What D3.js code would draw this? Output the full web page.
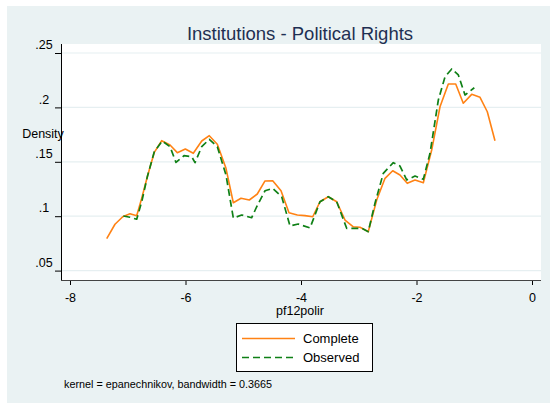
<!DOCTYPE html>
<html><head><meta charset="utf-8">
<script src="https://cdn.jsdelivr.net/npm/d3@7"></script>
<style>
html,body{margin:0;padding:0;background:#fff;}
svg{display:block;font-family:"Liberation Sans",Arial,Helvetica,sans-serif;}
</style></head>
<body><svg id="c" width="550" height="403"></svg>
<script>
const title = "Institutions - Political Rights";
const xLabel = "pf12polir";
const yLabel = "Density";
const note = "kernel = epanechnikov, bandwidth = 0.3665";
const seriesNames = ["Complete", "Observed"];
const xTicks = [-8, -6, -4, -2, 0];
const yTicks = [0.05, 0.10, 0.15, 0.20, 0.25];

const completeX = [-7.364,-7.221,-7.087,-6.961,-6.845,-6.758,-6.661,-6.540,-6.412,-6.268,-6.142,-6.003,-5.865,-5.719,-5.588,-5.449,-5.299,-5.172,-5.039,-4.895,-4.757,-4.623,-4.490,-4.346,-4.208,-4.064,-3.931,-3.797,-3.671,-3.527,-3.382,-3.238,-3.094,-2.978,-2.835,-2.689,-2.545,-2.412,-2.286,-2.160,-2.026,-1.882,-1.737,-1.593,-1.449,-1.321,-1.190,-1.044,-0.900,-0.774,-0.641];
const completeY = [0.0793,0.0926,0.0995,0.1023,0.1005,0.1165,0.1363,0.1587,0.1694,0.1654,0.1584,0.1618,0.1578,0.1691,0.1740,0.1661,0.1440,0.1124,0.1165,0.1149,0.1204,0.1324,0.1326,0.1234,0.1032,0.1011,0.1005,0.0995,0.1133,0.1179,0.1133,0.0965,0.0903,0.0898,0.0858,0.1149,0.1348,0.1418,0.1379,0.1302,0.1333,0.1308,0.1608,0.2006,0.2215,0.2215,0.2038,0.2120,0.2093,0.1960,0.1694];
const observedX = [-7.077,-6.961,-6.845,-6.758,-6.661,-6.540,-6.402,-6.268,-6.165,-6.026,-5.893,-5.835,-5.719,-5.588,-5.449,-5.299,-5.172,-5.027,-4.854,-4.767,-4.623,-4.490,-4.334,-4.190,-4.047,-3.844,-3.671,-3.527,-3.382,-3.209,-3.065,-2.949,-2.835,-2.719,-2.575,-2.402,-2.286,-2.170,-2.026,-1.882,-1.766,-1.622,-1.506,-1.390,-1.276,-1.160,-0.999];
const observedY = [0.1002,0.0990,0.0972,0.1133,0.1363,0.1593,0.1691,0.1639,0.1495,0.1556,0.1547,0.1492,0.1639,0.1707,0.1639,0.1379,0.0983,0.1011,0.0986,0.1087,0.1234,0.1256,0.1179,0.0910,0.0928,0.0892,0.1133,0.1179,0.1133,0.0889,0.0889,0.0889,0.0858,0.1119,0.1394,0.1492,0.1461,0.1333,0.1369,0.1339,0.1578,0.2068,0.2282,0.2353,0.2298,0.2114,0.2181];

const svg = d3.select("#c");
const bg = "#eaf2f3";
const plot = {l:61, r:541, t:44, b:280};

svg.append("rect").attr("x",7).attr("y",6).attr("width",543).attr("height",397).attr("fill",bg);
svg.append("rect").attr("x",plot.l).attr("y",plot.t).attr("width",plot.r-plot.l).attr("height",plot.b-plot.t).attr("fill","#fff");

const x = d3.scaleLinear().domain([-8,0]).range([70,532]);
const y = d3.scaleLinear().domain([0.05,0.25]).range([270.6,53]);

// gridlines
svg.append("g").selectAll("line").data(yTicks).join("line")
  .attr("x1",plot.l).attr("x2",plot.r)
  .attr("y1",d=>y(d)).attr("y2",d=>y(d))
  .attr("stroke","#e6eff1").attr("stroke-width",1.2);

// axes
const fmtY = d => d3.format(".2~f")(d).replace(/^0/,"");
const yAxis = svg.append("g").attr("transform",`translate(${plot.l},0)`)
  .call(d3.axisLeft(y).tickValues(yTicks).tickFormat(fmtY).tickSize(6).tickSizeOuter(0));
yAxis.select(".domain").remove();
yAxis.selectAll(".tick line").attr("stroke","#000");
yAxis.selectAll(".tick text").attr("x",-17).attr("dy","-0.35em").attr("text-anchor","middle")
  .attr("font-size",12.5).attr("fill","#000").attr("font-family","Liberation Sans, Arial, sans-serif");

const xAxis = svg.append("g").attr("transform",`translate(0,${plot.b})`)
  .call(d3.axisBottom(x).tickValues(xTicks).tickFormat(d3.format("d")).tickSize(5).tickSizeOuter(0));
xAxis.select(".domain").remove();
xAxis.selectAll(".tick line").attr("stroke","#000");
xAxis.selectAll(".tick text").attr("y",13).attr("dy","0.71em")
  .attr("font-size",12.5).attr("fill","#000").attr("font-family","Liberation Sans, Arial, sans-serif")
  .text(d => d < 0 ? "-" + Math.abs(d) : String(d));

svg.append("line").attr("x1",plot.l+0.5).attr("x2",plot.l+0.5).attr("y1",plot.t).attr("y2",plot.b+0.5)
  .attr("stroke","#000").attr("stroke-width",1);
svg.append("line").attr("x1",plot.l).attr("x2",plot.r).attr("y1",plot.b+0.5).attr("y2",plot.b+0.5)
  .attr("stroke","#444").attr("stroke-width",1);

// series
const orange = "#ff8214", green = "#0f8016";
const line = d3.line().x(d=>x(d[0])).y(d=>y(d[1]));
const compData = completeX.map((v,i)=>[v,completeY[i]]);
const obsData = observedX.map((v,i)=>[v,observedY[i]]);
svg.append("path").datum(compData).attr("d",line).attr("fill","none")
  .attr("stroke",orange).attr("stroke-width",1.6).attr("stroke-linejoin","round");
svg.append("path").datum(obsData).attr("d",line).attr("fill","none")
  .attr("stroke",green).attr("stroke-width",1.7).attr("stroke-dasharray","7,4").attr("stroke-linejoin","round");

// texts
svg.append("text").attr("x",300).attr("y",40).attr("text-anchor","middle")
  .attr("font-size",18.5).attr("fill","#1e2f52").text(title);
svg.append("text").attr("x",43).attr("y",138).attr("text-anchor","middle")
  .attr("font-size",12.5).attr("fill","#000").text(yLabel);
svg.append("text").attr("x",300).attr("y",315).attr("text-anchor","middle")
  .attr("font-size",12.5).attr("fill","#000").text(xLabel);

// legend
const lg = svg.append("g");
lg.append("rect").attr("x",236.5).attr("y",323.5).attr("width",136).attr("height",48)
  .attr("fill","#fff").attr("stroke","#000").attr("stroke-width",1);
const lgItems = [{name:seriesNames[0],color:orange,dash:null,w:1.6,y:338.5},{name:seriesNames[1],color:green,dash:"7,4",w:1.7,y:357.5}];
lgItems.forEach(it=>{
  lg.append("line").attr("x1",242).attr("x2",295).attr("y1",it.y).attr("y2",it.y)
    .attr("stroke",it.color).attr("stroke-width",it.w).attr("stroke-dasharray",it.dash);
  lg.append("text").attr("x",303).attr("y",it.y+4.8).attr("font-size",13).attr("fill","#000").text(it.name);
});

svg.append("text").attr("x",64).attr("y",388).attr("font-size",10.8).attr("fill","#000").text(note);
</script></body></html>
